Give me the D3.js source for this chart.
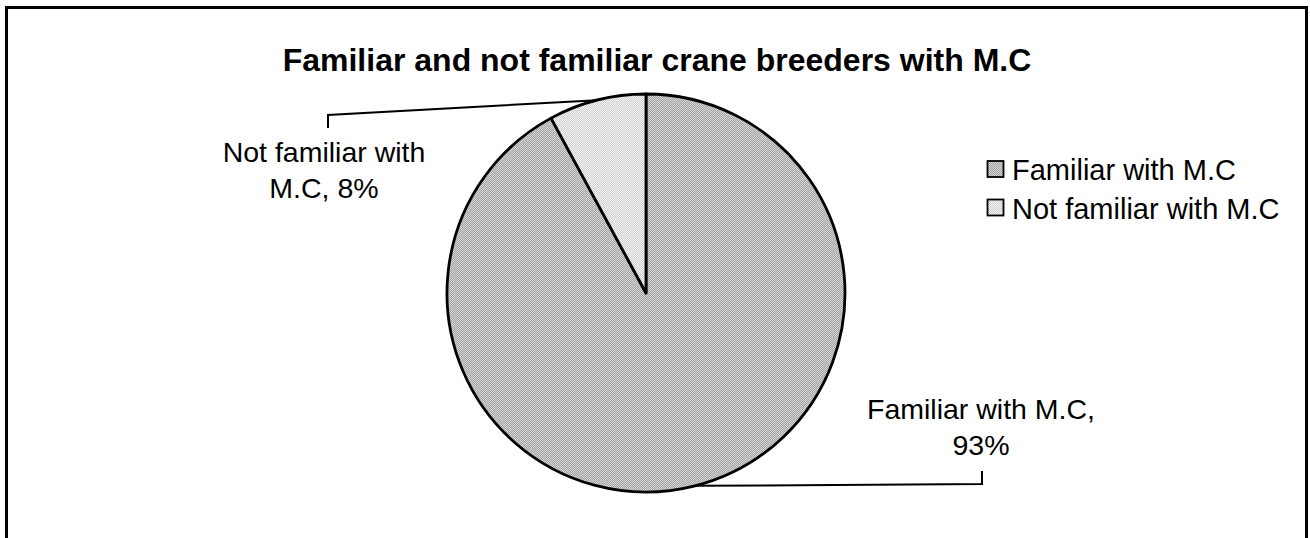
<!DOCTYPE html>
<html>
<head>
<meta charset="utf-8">
<script src="https://cdn.jsdelivr.net/npm/d3@7"></script>
<style>
  html, body { margin: 0; padding: 0; background: #fff; }
  svg { display: block; }
  text { font-family: "Liberation Sans", Arial, sans-serif; fill: #000; }
</style>
</head>
<body>
<svg id="chart" width="1310" height="538"></svg>
<script>
// Survey answers: share of crane breeders familiar with M.C
const categories = ["Familiar with M.C", "Not familiar with M.C"];
const values = [93, 8];
const pctLabels = ["93%", "8%"];
const title = "Familiar and not familiar crane breeders with M.C";

const W = 1310, H = 538;
const svg = d3.select("#chart");

// fine dithered fills for the two slices
const defs = svg.append("defs");
const fills = [
  { id: "patFam", bg: "#d4d4d4", dot: "#a4a4a4" },
  { id: "patNot", bg: "#f7f7f7", dot: "#cccccc" }
];
fills.forEach(f => {
  const p = defs.append("pattern").attr("id", f.id)
    .attr("patternUnits", "userSpaceOnUse").attr("width", 2).attr("height", 2);
  p.append("rect").attr("width", 2).attr("height", 2).attr("fill", f.bg);
  p.append("rect").attr("x", 0).attr("y", 0).attr("width", 1).attr("height", 1).attr("fill", f.dot);
  p.append("rect").attr("x", 1).attr("y", 1).attr("width", 1).attr("height", 1).attr("fill", f.dot);
});
const color = d3.scaleOrdinal().domain(categories).range(fills.map(f => `url(#${f.id})`));

// chart frame (open at the bottom edge)
svg.append("path")
  .attr("d", `M6.5,${H + 5} V7.5 H1306.5 V${H + 5}`)
  .attr("fill", "none").attr("stroke", "#000").attr("stroke-width", 3);

// title
svg.append("text")
  .attr("x", 657).attr("y", 71)
  .attr("text-anchor", "middle")
  .attr("font-weight", "bold")
  .attr("font-size", 32)
  .text(title);

// pie
const cx = 646, cy = 293, r = 199;
const pie = d3.pie().sort(null).value(d => d.value);
const arcs = pie(categories.map((c, i) => ({ name: c, value: values[i], pct: pctLabels[i] })));
const arc = d3.arc().innerRadius(0).outerRadius(r);

const g = svg.append("g").attr("transform", `translate(${cx},${cy})`);
g.selectAll("path.slice")
  .data(arcs)
  .join("path")
  .attr("class", "slice")
  .attr("d", arc)
  .attr("fill", d => color(d.data.name))
  .attr("stroke", "#000")
  .attr("stroke-width", 2.8)
  .attr("stroke-linejoin", "round");

// data labels with leader lines
const labelLayout = {
  "Familiar with M.C": { x: 981, y: 419, lines: ["Familiar with M.C,", null], tick: [982, 471, 484] },
  "Not familiar with M.C": { x: 324, y: 162, lines: ["Not familiar with", "M.C, "], tick: [328, 128, 115] }
};
const lineGap = 35.5;

arcs.forEach(d => {
  const L = labelLayout[d.data.name];
  const mid = (d.startAngle + d.endAngle) / 2;
  const ex = cx + r * Math.sin(mid), ey = cy - r * Math.cos(mid);
  const [tx, t0, t1] = L.tick;
  svg.append("path")
    .attr("d", `M${tx},${t0} V${t1} L${ex},${ey}`)
    .attr("fill", "none").attr("stroke", "#000").attr("stroke-width", 2);

  const t = svg.append("text")
    .attr("x", L.x).attr("y", L.y)
    .attr("text-anchor", "middle")
    .attr("font-size", 28.5);
  t.append("tspan").attr("x", L.x).attr("dy", 0).text(L.lines[0]);
  t.append("tspan").attr("x", L.x).attr("dy", lineGap)
    .text((L.lines[1] || "") + d.data.pct);
});

// legend
const legend = svg.append("g");
const legRow = 38.5;
categories.forEach((c, i) => {
  const base = 180 + i * legRow;
  legend.append("rect")
    .attr("x", 987.5).attr("y", base - 19)
    .attr("width", 16).attr("height", 16)
    .attr("fill", color(c))
    .attr("stroke", "#000").attr("stroke-width", 1.8);
  legend.append("text")
    .attr("x", 1012).attr("y", base)
    .attr("font-size", 29)
    .text(c);
});
</script>
</body>
</html>
